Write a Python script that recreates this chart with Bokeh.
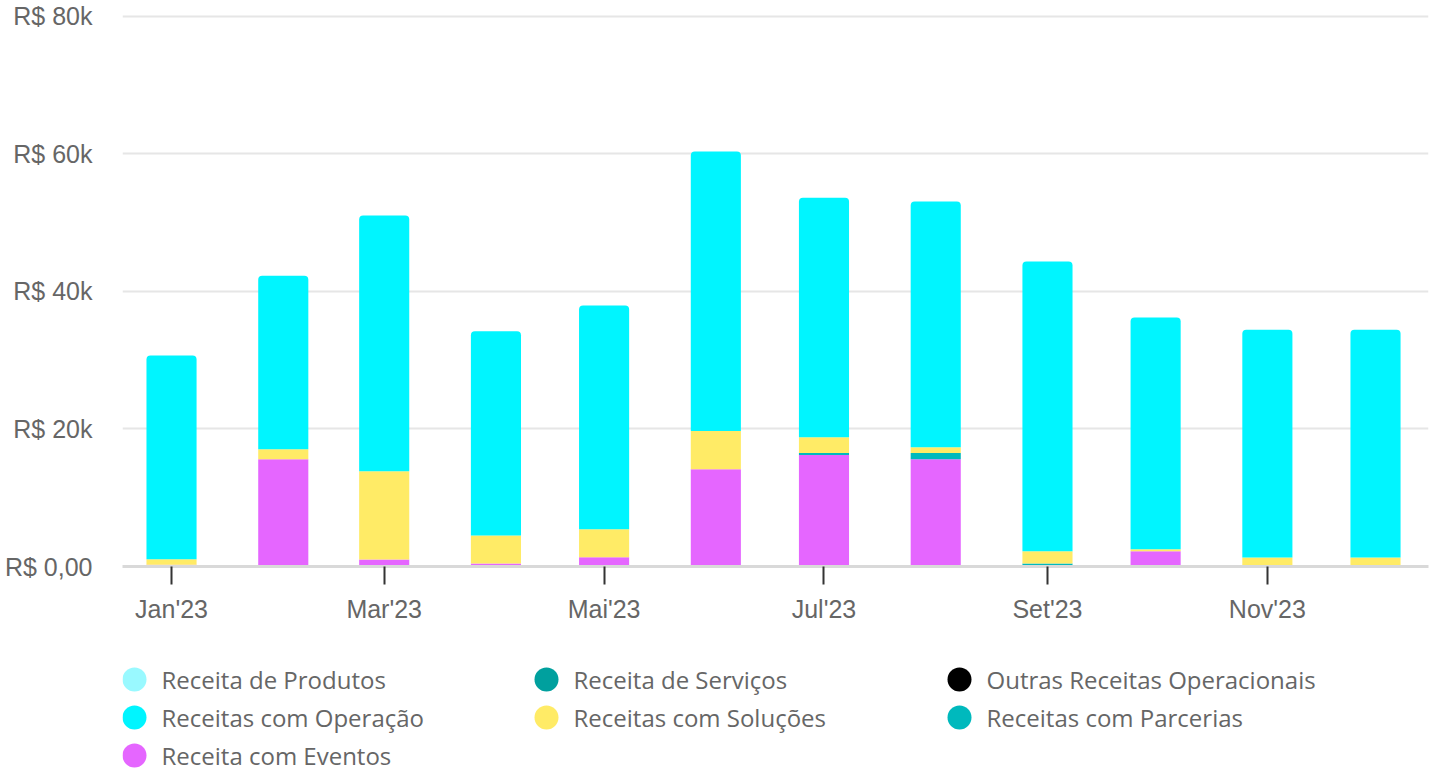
import pandas as pd
from bokeh.plotting import figure
from bokeh.models import ColumnDataSource, Range1d, FixedTicker
from bokeh.layouts import column
from bokeh.core.properties import value
from bokeh.embed import file_html
from bokeh.resources import INLINE

# ---------------- data ----------------
months = ["2023-01-01", "2023-02-01", "2023-03-01", "2023-04-01", "2023-05-01", "2023-06-01",
          "2023-07-01", "2023-08-01", "2023-09-01", "2023-10-01", "2023-11-01", "2023-12-01"]

receita_produtos = [0, 0, 0, 0, 0, 0, 0, 0, 0, 0, 0, 0]
receita_servicos = [0, 0, 0, 0, 0, 0, 0, 0, 0, 0, 0, 0]
outras_receitas = [0, 0, 0, 0, 0, 0, 0, 0, 0, 0, 0, 0]
receitas_operacao = [29650, 25250, 37200, 29700, 32550, 40650, 34850, 35750, 42150, 33700, 33150, 33150]
receitas_solucoes = [800, 1450, 12850, 4050, 4050, 5550, 2300, 850, 1750, 300, 1300, 1300]
receitas_parcerias = [0, 0, 0, 0, 0, 0, 300, 900, 350, 0, 0, 0]
receita_eventos = [250, 15600, 1000, 450, 1350, 14150, 16200, 15600, 100, 2200, 0, 0]

series_names = ["Receita de Produtos", "Receita de Serviços", "Outras Receitas Operacionais",
                "Receitas com Operação", "Receitas com Soluções", "Receitas com Parcerias",
                "Receita com Eventos"]
series_values = [receita_produtos, receita_servicos, outras_receitas, receitas_operacao,
                 receitas_solucoes, receitas_parcerias, receita_eventos]
series_colors = ["#99f9ff", "#00a09e", "#000000", "#00f5ff", "#ffeb66", "#00b9bd", "#e566ff"]

x_tick_months = ["2023-01-01", "2023-03-01", "2023-05-01", "2023-07-01", "2023-09-01", "2023-11-01"]
x_tick_labels = ["Jan'23", "Mar'23", "Mai'23", "Jul'23", "Set'23", "Nov'23"]
y_ticks = [0, 20000, 40000, 60000, 80000]
y_tick_labels = ["R$ 0,00", "R$ 20k", "R$ 40k", "R$ 60k", "R$ 80k"]

# ---------------- derived ----------------
origin = pd.Timestamp("2023-01-01")
x_days = [int((pd.Timestamp(m) - origin).days) for m in months]
tick_days = [int((pd.Timestamp(m) - origin).days) for m in x_tick_months]

keys = ["s%d" % i for i in range(len(series_names))]
data = {"x": x_days}
for k, v in zip(keys, series_values):
    data[k] = v
source = ColumnDataSource(data)

FRAME_L, FRAME_R = 122, 1428
FIG_W = 1439

# ---------------- main chart ----------------
p = figure(width=FIG_W, height=640, output_backend="svg", toolbar_location=None,
           x_range=Range1d(-13.6, 348.7), y_range=Range1d(0, 80290),
           min_border_left=FRAME_L, min_border_right=FIG_W - FRAME_R,
           min_border_top=14, min_border_bottom=74)
p.outline_line_color = None
p.background_fill_color = "white"
p.border_fill_color = "white"

# stack from bottom to top (reverse of legend order)
order = list(range(len(keys)))[::-1]
renderers = p.vbar_stack([keys[i] for i in order], x="x", width=13.9, source=source,
                         color=[series_colors[i] for i in order], line_color=None)
for r, i in zip(renderers, order):
    if series_names[i] == "Receitas com Operação":
        r.glyph.border_radius = (4, 4, 0, 0)

p.xgrid.grid_line_color = None
p.ygrid.grid_line_color = "#e6e6e6"
p.ygrid.grid_line_width = 2

p.xaxis.ticker = FixedTicker(ticks=tick_days)
p.xaxis.major_label_overrides = {d: lab for d, lab in zip(tick_days, x_tick_labels)}
p.xaxis.axis_line_color = "#d9d9d9"
p.xaxis.axis_line_width = 3
p.xaxis.major_tick_line_color = "#333333"
p.xaxis.major_tick_line_width = 2
p.xaxis.major_tick_out = 18
p.xaxis.major_tick_in = 0
p.xaxis.minor_tick_line_color = None
p.xaxis.major_label_standoff = 10
p.xaxis.major_label_text_font = "Liberation Sans"
p.xaxis.major_label_text_font_size = "25px"
p.xaxis.major_label_text_color = "#666666"

p.yaxis.ticker = FixedTicker(ticks=y_ticks)
p.yaxis.major_label_overrides = {t: lab for t, lab in zip(y_ticks, y_tick_labels)}
p.yaxis.axis_line_color = None
p.yaxis.major_tick_line_color = None
p.yaxis.minor_tick_line_color = None
p.yaxis.major_tick_out = 0
p.yaxis.major_tick_in = 0
p.yaxis.major_label_standoff = 30
p.yaxis.major_label_text_font = "Liberation Sans"
p.yaxis.major_label_text_font_size = "25px"
p.yaxis.major_label_text_color = "#666666"

# ---------------- legend (3 columns, row-major), in page pixel coordinates ----------------
col_x = [134, 546, 959]
row_y = [679, 717, 755]
leg_cx, leg_cy, leg_tx = [], [], []
for i in range(len(series_names)):
    leg_cx.append(col_x[i % 3])
    leg_cy.append(row_y[i // 3])
    leg_tx.append(col_x[i % 3] + 27)
leg_src = ColumnDataSource(dict(cx=leg_cx, cy=leg_cy, tx=leg_tx, name=series_names,
                                color=series_colors))

lg = figure(width=FIG_W, height=132, output_backend="svg", toolbar_location=None,
            x_range=Range1d(FRAME_L, FRAME_R), y_range=Range1d(772, 640),
            min_border_left=FRAME_L, min_border_right=FIG_W - FRAME_R,
            min_border_top=0, min_border_bottom=0, x_axis_type=None, y_axis_type=None)
lg.outline_line_color = None
lg.grid.visible = False
lg.scatter(x="cx", y="cy", size=24, color="color", line_color=None, source=leg_src)
lg.text(x="tx", y="cy", text="name", source=leg_src, text_font=value("Open Sans"),
        text_font_size="24px", text_color="#666666", text_baseline="middle", text_align="left")

layout = column(p, lg, spacing=0)
open("out.html", "w").write(file_html(layout, INLINE))
